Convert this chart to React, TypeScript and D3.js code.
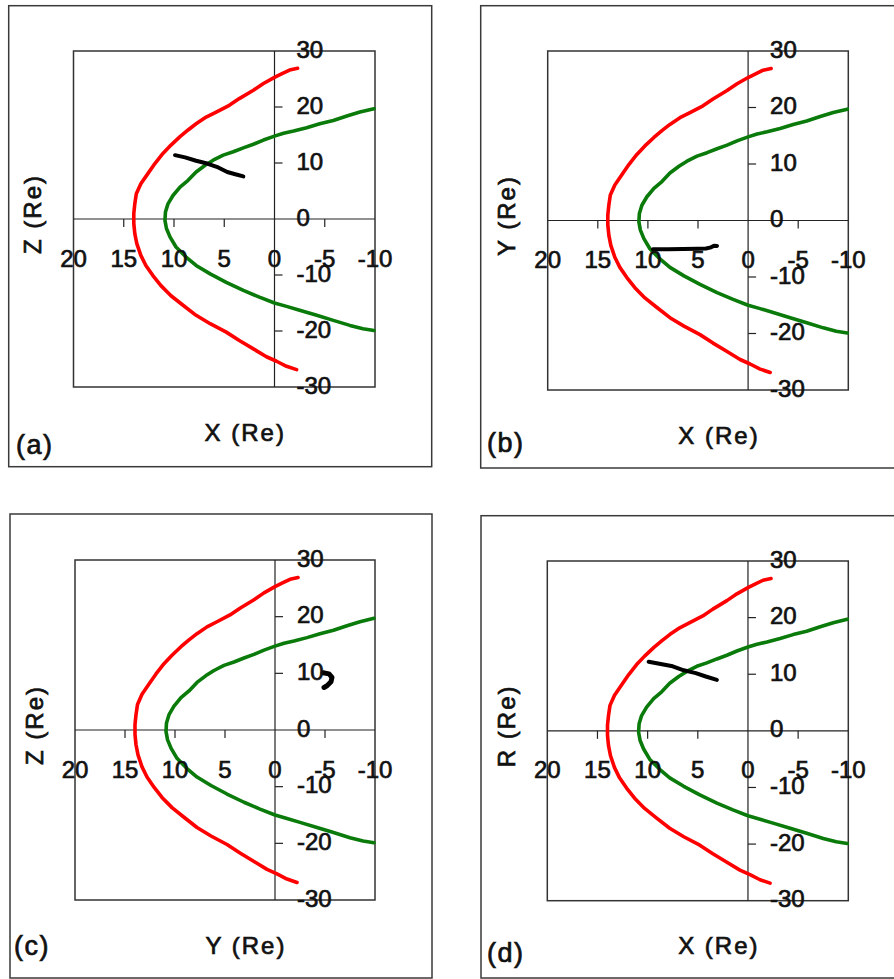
import React from "react";
import * as d3 from "d3";

// Bow shock (red) and magnetopause (green) boundaries, [X, Y] in Earth radii
const bowShock: [number, number][] = [
  [-2.3, 26.9], [-1.5, 26.6], [-0.7, 25.9], [0.0, 25.3], [1.1, 24.2], [2.1, 23.0],
  [3.5, 21.5], [4.5, 20.3], [5.8, 19.1], [6.8, 18.2], [7.8, 17.0], [8.6, 15.9],
  [9.4, 14.7], [10.3, 13.2], [11.1, 11.7], [11.9, 9.9], [12.6, 8.1], [13.3, 6.3],
  [13.75, 4.5], [13.9, 2.7], [14.0, 1.0], [14.0, -0.8], [13.9, -2.6], [13.7, -4.4],
  [13.3, -6.5], [12.8, -8.3], [12.1, -10.1], [11.3, -11.9], [10.3, -13.7], [9.1, -15.4],
  [7.8, -17.2], [6.4, -18.7], [4.8, -20.2], [3.5, -21.7], [2.1, -23.2], [0.8, -24.6],
  [-0.2, -25.4], [-1.2, -26.3], [-2.2, -26.9],
];

const magnetopause: [number, number][] = [
  [-9.9, 19.7], [-8.5, 19.1], [-7.2, 18.4], [-5.85, 17.6], [-4.5, 17.0], [-3.2, 16.3],
  [-1.9, 15.7], [-0.9, 15.3], [0.0, 14.8], [1.1, 14.1], [2.1, 13.35], [3.1, 12.7],
  [4.1, 12.0], [5.1, 11.4], [6.1, 10.5], [6.9, 9.6], [7.8, 8.4], [8.6, 6.9],
  [9.4, 5.7], [10.1, 4.2], [10.6, 2.7], [10.85, 1.25], [10.9, -0.25], [10.75, -1.7],
  [10.4, -3.2], [9.8, -5.0], [8.8, -6.8], [7.8, -8.3], [6.4, -9.8], [4.8, -11.3],
  [3.1, -12.75], [1.5, -13.95], [0.0, -15.0], [-1.2, -15.6], [-2.5, -16.3], [-4.2, -17.2],
  [-5.85, -18.1], [-7.5, -19.0], [-8.8, -19.6], [-9.9, -19.9],
];

// Spacecraft track in each projection
const trackXZ: [number, number][] = [
  [9.9, 11.4], [8.9, 11.0], [7.8, 10.4], [6.7, 9.9], [5.6, 9.2], [4.7, 8.4], [3.9, 8.0], [3.1, 7.6],
];
const trackXY: [number, number][] = [
  [9.5, -5.1], [8.0, -5.1], [6.5, -5.05], [5.0, -5.0], [4.2, -4.95], [3.7, -4.75], [3.4, -4.45], [3.1, -4.5],
];
const trackYZ: [number, number][] = [
  [-4.8, 10.1], [-5.4, 9.9], [-5.7, 9.3], [-5.6, 8.5], [-5.2, 7.8], [-4.9, 7.5],
];
const trackXR: [number, number][] = [
  [9.9, 12.2], [8.7, 11.8], [7.5, 11.4], [6.4, 10.7], [5.2, 10.2], [4.2, 9.6], [3.1, 9.0],
];

const xTickValues = [20, 15, 10, 5, 0, -5, -10];
const yTickValues = [30, 20, 10, 0, -10, -20, -30];
const xDomain: [number, number] = [20, -10];
const yDomain: [number, number] = [30, -30];

const panels = [
  {
    tag: "(a)", xTitle: "X (Re)", yTitle: "Z (Re)", track: trackXZ, trackWidth: 4,
    box: [8.7, 5.7, 431.7, 466.7], plot: [73.5, 51, 375, 387], tagPos: [16, 445],
  },
  {
    tag: "(b)", xTitle: "X (Re)", yTitle: "Y (Re)", track: trackXY, trackWidth: 4,
    box: [480.7, 5.7, 900, 468], plot: [547.7, 51, 848.3, 390], tagPos: [487, 443],
  },
  {
    tag: "(c)", xTitle: "Y (Re)", yTitle: "Z (Re)", track: trackYZ, trackWidth: 5,
    box: [10, 514, 432, 978], plot: [75, 560, 375, 900], tagPos: [14, 946],
  },
  {
    tag: "(d)", xTitle: "X (Re)", yTitle: "R (Re)", track: trackXR, trackWidth: 4,
    box: [481, 515.7, 900, 978], plot: [547.3, 561, 848.3, 900.7], tagPos: [487, 953],
  },
];

const FONT = "'Liberation Sans', Arial, sans-serif";
const textStyle = {
  fontFamily: FONT,
  fill: "#111",
  stroke: "#111",
  strokeWidth: 0.7,
} as const;

function Panel({ p }: { p: (typeof panels)[number] }) {
  const [l, t, r, b] = p.plot;
  const x = d3.scaleLinear().domain(xDomain).range([l, r]);
  const y = d3.scaleLinear().domain(yDomain).range([t, b]);
  const line = d3
    .line<[number, number]>()
    .x((d) => x(d[0]))
    .y((d) => y(d[1]))
    .curve(d3.curveLinear);
  const x0 = x(0);
  const y0 = y(0);
  const [bl, bt, br, bb] = p.box;
  return (
    <g>
      <rect x={bl} y={bt} width={br - bl} height={bb - bt} fill="none" stroke="#3a3a3a" strokeWidth={1.5} />
      <rect x={l} y={t} width={r - l} height={b - t} fill="none" stroke="#333" strokeWidth={1.5} />
      <line x1={l} x2={r} y1={y0} y2={y0} stroke="#222" strokeWidth={1.2} />
      <line x1={x0} x2={x0} y1={t} y2={b} stroke="#222" strokeWidth={1.2} />
      {xTickValues
        .filter((v) => v !== 0 && v !== xDomain[0] && v !== xDomain[1])
        .map((v) => (
          <line key={"xt" + v} x1={x(v)} x2={x(v)} y1={y0} y2={y0 + 8} stroke="#222" strokeWidth={1.2} />
        ))}
      {yTickValues
        .filter((v) => v !== 0 && v !== yDomain[0] && v !== yDomain[1])
        .map((v) => (
          <line key={"yt" + v} x1={x0} x2={x0 + 8} y1={y(v)} y2={y(v)} stroke="#222" strokeWidth={1.2} />
        ))}
      <path d={line(bowShock) || ""} fill="none" stroke="#ff0000" strokeWidth={3.6} strokeLinejoin="round" strokeLinecap="round" />
      <path d={line(magnetopause) || ""} fill="none" stroke="#0a7a0a" strokeWidth={3.6} strokeLinejoin="round" strokeLinecap="round" />
      <path d={line(p.track) || ""} fill="none" stroke="#000" strokeWidth={p.trackWidth} strokeLinejoin="round" strokeLinecap="round" />
      {xTickValues.map((v) => (
        <text key={"xl" + v} x={x(v)} y={y0 + 39} textAnchor="middle" dominantBaseline="central"
          fontSize={24} {...textStyle}>
          {v}
        </text>
      ))}
      {yTickValues.map((v) => (
        <text key={"yl" + v} x={x0 + 22} y={y(v) - 2} textAnchor="start" dominantBaseline="central"
          fontSize={24} {...textStyle}>
          {v}
        </text>
      ))}
      <text x={(l + r) / 2 + 21} y={b + 45} textAnchor="middle" dominantBaseline="central"
        fontSize={24} letterSpacing={2} {...textStyle}>
        {p.xTitle}
      </text>
      <text transform={`translate(${l - 41},${(t + b) / 2 - 5}) rotate(-90)`} textAnchor="middle"
        dominantBaseline="central" fontSize={24} letterSpacing={2} {...textStyle}>
        {p.yTitle}
      </text>
      <text x={p.tagPos[0]} y={p.tagPos[1]} dominantBaseline="central" fontSize={27} letterSpacing={1.5}
        {...textStyle}>
        {p.tag}
      </text>
    </g>
  );
}

export default function App() {
  return (
    <svg width={894} height={979} style={{ position: "absolute", left: 0, top: 0, background: "#fff" }}>
      <rect width={894} height={979} fill="#fff" />
      {panels.map((p) => (
        <Panel key={p.tag} p={p} />
      ))}
    </svg>
  );
}
